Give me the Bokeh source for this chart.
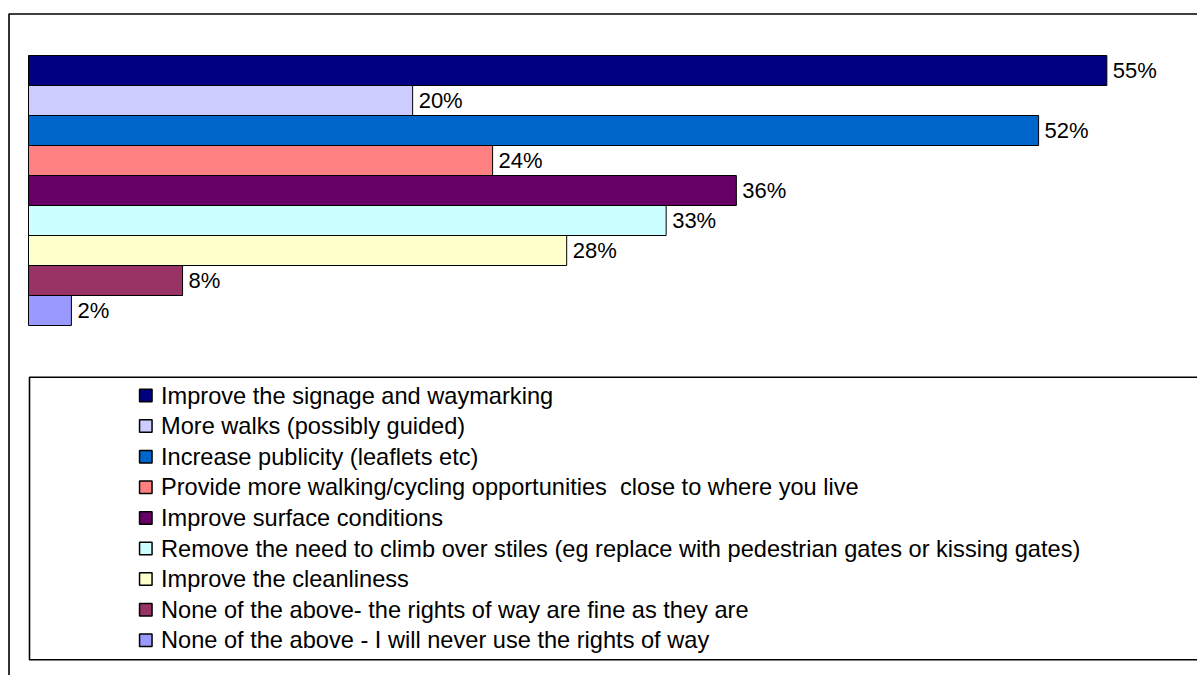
from bokeh.plotting import figure
from bokeh.models import Range1d, ColumnDataSource
from bokeh.embed import file_html
from bokeh.resources import INLINE
from bokeh.core.properties import value

# ---------------- data ----------------
categories = [
    "Improve the signage and waymarking",
    "More walks (possibly guided)",
    "Increase publicity (leaflets etc)",
    "Provide more walking/cycling opportunities\u00a0 close to where you live",
    "Improve surface conditions",
    "Remove the need to climb over stiles (eg replace with pedestrian gates or kissing gates)",
    "Improve the cleanliness",
    "None of the above- the rights of way are fine as they are",
    "None of the above - I will never use the rights of way",
]
percent_values = [55.3, 19.7, 51.8, 23.8, 36.3, 32.7, 27.6, 7.9, 2.2]
value_labels = ["55%", "20%", "52%", "24%", "36%", "33%", "28%", "8%", "2%"]
bar_colors = ["#000080", "#CCCCFF", "#0066CC", "#FF8080", "#660066",
              "#CCFFFF", "#FFFFCC", "#993366", "#9999FF"]

# ---------------- layout ----------------
W, H = 1197, 675
PX_PER_PCT = 19.5
X0 = 28      # canvas px of 0 %
ROW = 30     # px per bar
Y0 = 70      # canvas px of first bar centre


def fx(px):
    return (px - X0) / PX_PER_PCT


def fy(py):
    return (py - Y0) / ROW


p = figure(width=W, height=H,
           x_range=Range1d(fx(0), fx(W)),
           y_range=Range1d(fy(H), fy(0)),
           x_axis_type=None, y_axis_type=None,
           output_backend="svg", toolbar_location=None,
           min_border=0, outline_line_color=None)
p.grid.visible = False
p.background_fill_color = "white"
p.border_fill_color = "white"

# outer chart frame (right/bottom edges fall outside the view)
p.quad(left=fx(8.5), right=fx(W + 60), top=fy(13.5), bottom=fy(H + 60),
       fill_color=None, line_color="black", line_width=1.6)

idx = list(range(len(categories)))
src = ColumnDataSource(dict(y=idx, v=percent_values, lab=value_labels,
                            c=bar_colors, cat=categories))

p.hbar(y="y", left=0, right="v", height=1, fill_color="c",
       line_color="black", line_width=1, source=src)

p.text(x="v", y="y", text="lab", source=src, x_offset=6,
       text_baseline="middle", text_align="left",
       text_font=value("Liberation Sans"), text_font_size="22px",
       text_color="black")

# legend box
p.quad(left=fx(29), right=fx(W + 60), top=fy(376.7), bottom=fy(659.3),
       fill_color=None, line_color="black", line_width=1.6)

LEG_Y0 = 395.0
LEG_DY = 30.6
leg_y = [fy(LEG_Y0 + LEG_DY * k) for k in idx]
leg_src = ColumnDataSource(dict(y=leg_y, c=bar_colors, cat=categories))
p.scatter(x=fx(145.3), y="y", marker="square", size=12.5, fill_color="c",
          line_color="black", line_width=1.5, source=leg_src)
p.text(x=fx(160.5), y="y", text="cat", source=leg_src,
       text_baseline="middle", text_align="left",
       text_font=value("Liberation Sans"), text_font_size="23.6px",
       text_color="black")

open("out.html", "w").write(file_html(p, INLINE))
